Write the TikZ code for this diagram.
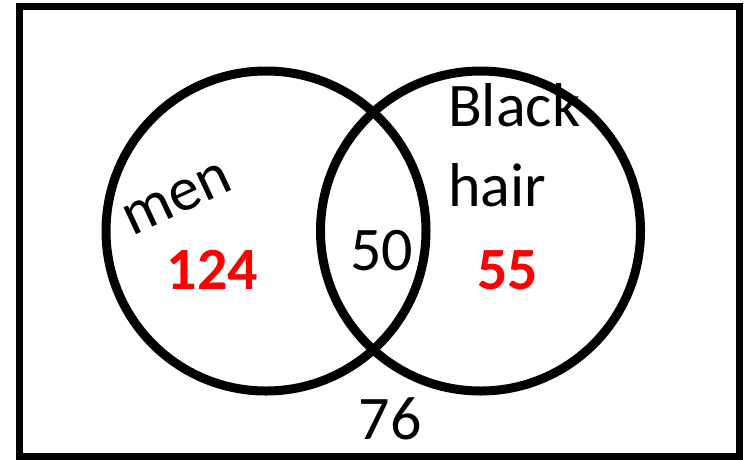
\documentclass[tikz,border=0pt]{standalone}
\usepackage{fontspec}
\setmainfont{Carlito}
\begin{document}
\begin{tikzpicture}[x=1pt,y=-1pt,
  frame/.style={draw=black,line width=7pt},
  setcircle/.style={draw=black,line width=9pt},
  lbl/.style={inner sep=0pt,font=\fontsize{62}{74}\selectfont},
  cnt/.style={inner sep=0pt,font=\fontsize{60}{72}\selectfont\bfseries,text=red}]
\useasboundingbox (0,0) rectangle (746,459);
\draw[frame] (19.5,6.5) rectangle (739,456);
\draw[setcircle] (266,231) circle[radius=160pt];
\draw[setcircle] (480.5,231) circle[radius=160pt];
\node[lbl,rotate=25] (men) at (177.5,199) {men};
\node[lbl,anchor=base west] (black) at (448,126.7) {Black};
\node[lbl,anchor=base west] (hair) at (448,206) {hair};
\node[cnt] (n124) at (212.3,270) {124};
\node[lbl] (n50) at (381.7,251) {50};
\node[cnt] (n55) at (507.5,270.7) {55};
\node[lbl] (n76) at (390,419) {76};
\end{tikzpicture}
\end{document}
